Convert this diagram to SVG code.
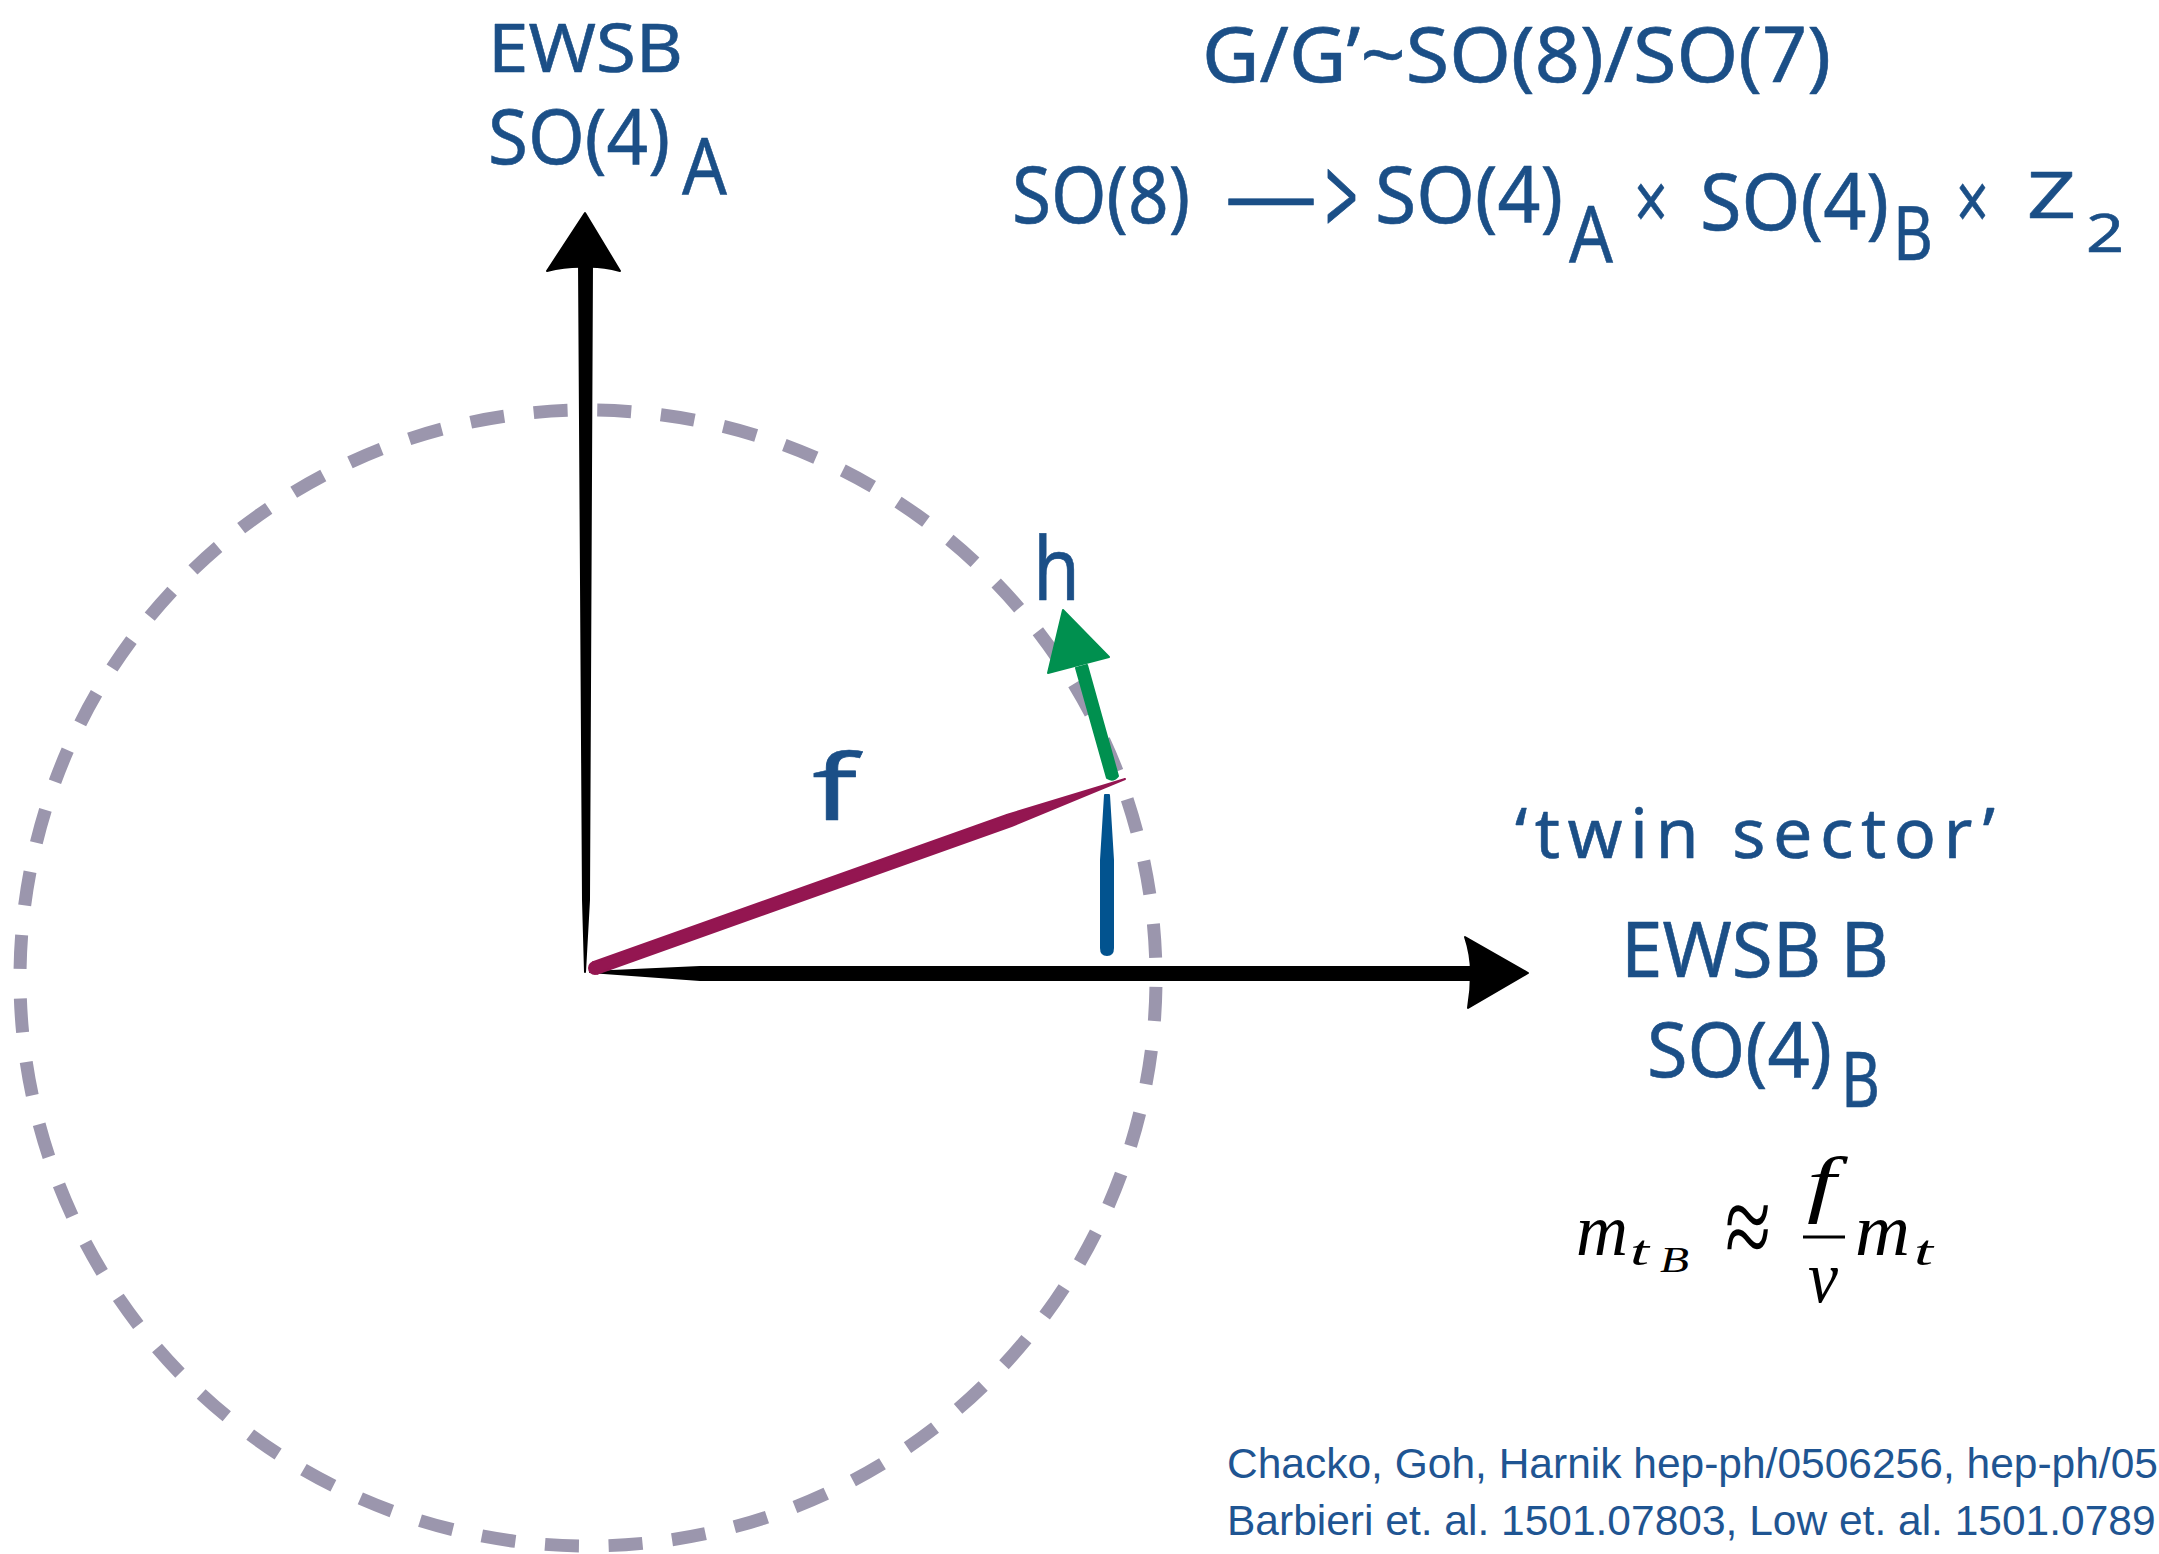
<svg xmlns="http://www.w3.org/2000/svg" width="2159" height="1554" viewBox="0 0 2159 1554">
<style>
.hw{font-family:"Noto Sans","DejaVu Sans",sans-serif;fill:#1b4f87;stroke:#1b4f87;stroke-width:0.6;stroke-linejoin:round}
.m{font-family:"Liberation Serif","DejaVu Serif",serif;font-style:italic;fill:#000}
.mr{font-family:"Liberation Serif","DejaVu Serif",serif;fill:#000}
.cite{font-family:"Liberation Sans",Arial,sans-serif;font-size:42.5px;fill:#1f5592}
.ink{stroke-linejoin:round;stroke-width:2}
</style>
<rect width="2159" height="1554" fill="#fff"/>

<g id="circle">
<circle cx="588" cy="978" r="568" fill="none" stroke="#9b96ad" stroke-width="13" stroke-dasharray="34 29.73" stroke-dashoffset="-9"/>
</g>

<g id="connectors">
<g id="axis-vertical" fill="#000" stroke="#000" class="ink">
<path d="M585,972 L583,900 L579,262 L592,262 L589,900 Z"/>
<path d="M585,213 L620,271 Q600,266 586,267 Q568,266 547,271 Z"/>
</g>
<g id="axis-horizontal" fill="#000" stroke="#000" class="ink">
<path d="M590,972 L700,967 L1478,967 L1478,980 L700,980 Z"/>
<path d="M1528,973 L1465,937 Q1471,955 1471,973 Q1471,990 1468,1008 Z"/>
</g>
<g id="vector-f" fill="#941651" stroke="#941651" class="ink">
<circle cx="595" cy="968" r="6"/>
<path d="M597,973.7 L1011.5,826 L1125,779 L1007.5,814.7 L593,962.3 Z"/>
</g>
<g id="vector-h" fill="#00904f" stroke="#00904f" class="ink">
<path d="M1118,776 Q1113,782 1107,778 L1076,668 L1087,665 Z"/>
<path d="M1063,610 L1109,657 L1048,673 Z"/>
</g>
<g id="vector-v" fill="#02538f" stroke="#02538f" class="ink">
<path d="M1105,795 L1109,795 L1113,860 L1113,948 Q1113,955 1107,955 Q1101,955 1101,948 L1101,860 Z"/>
</g>
</g>

<g id="label-A">
<text class="hw" x="488" y="72" font-size="68" textLength="195" lengthAdjust="spacingAndGlyphs">EWSB</text>
<text class="hw" x="488" y="164" font-size="76" textLength="182" lengthAdjust="spacingAndGlyphs">SO(4)</text>
<text class="hw" x="682" y="194" font-size="78" textLength="45" lengthAdjust="spacingAndGlyphs">A</text>
</g>

<g id="label-coset">
<text class="hw" x="1202" y="82" font-size="76" textLength="629" lengthAdjust="spacingAndGlyphs">G/G’~SO(8)/SO(7)</text>
</g>

<g id="label-breaking">
<text class="hw" x="1012" y="223" font-size="78" textLength="178" lengthAdjust="spacingAndGlyphs">SO(8)</text>
<text class="hw" x="1225" y="223" font-size="78" textLength="92" lengthAdjust="spacingAndGlyphs">—</text>
<text class="hw" transform="translate(1325,236) scale(1,1.4)" x="0" y="0" font-size="78" textLength="33" lengthAdjust="spacingAndGlyphs">&gt;</text>
<text class="hw" x="1375" y="223" font-size="78" textLength="188" lengthAdjust="spacingAndGlyphs">SO(4)</text>
<text class="hw" x="1569" y="262" font-size="78" textLength="44" lengthAdjust="spacingAndGlyphs">A</text>
<text class="hw" x="1634" y="230" font-size="80" textLength="34" lengthAdjust="spacingAndGlyphs">×</text>
<text class="hw" x="1700" y="230" font-size="78" textLength="189" lengthAdjust="spacingAndGlyphs">SO(4)</text>
<text class="hw" x="1893" y="260" font-size="74" textLength="40" lengthAdjust="spacingAndGlyphs">B</text>
<text class="hw" x="1956" y="230" font-size="80" textLength="33" lengthAdjust="spacingAndGlyphs">×</text>
<text class="hw" x="2027" y="218" font-size="63" textLength="49" lengthAdjust="spacingAndGlyphs">Z</text>
<text class="hw" x="2086" y="252" font-size="52" textLength="38" lengthAdjust="spacingAndGlyphs">2</text>
</g>

<g id="label-B">
<text class="hw" x="1515" y="858" font-size="70" textLength="480" lengthAdjust="spacing">‘twin sector’</text>
<text class="hw" x="1621" y="977" font-size="76" textLength="268" lengthAdjust="spacingAndGlyphs">EWSB B</text>
<text class="hw" x="1647" y="1077" font-size="76" textLength="185" lengthAdjust="spacingAndGlyphs">SO(4)</text>
<text class="hw" x="1841" y="1107" font-size="76" textLength="39" lengthAdjust="spacingAndGlyphs">B</text>
</g>

<g id="label-h">
<text class="hw" x="1033" y="600" font-size="88" textLength="47" lengthAdjust="spacingAndGlyphs">h</text>
</g>
<g id="label-f">
<text class="hw" x="812" y="820" font-size="92" textLength="45" lengthAdjust="spacingAndGlyphs">f</text>
</g>

<g id="formula">
<text class="m" x="1576" y="1255" font-size="73" textLength="52" lengthAdjust="spacingAndGlyphs">m</text>
<text class="m" x="1630" y="1265" font-size="43" textLength="19" lengthAdjust="spacingAndGlyphs">t</text>
<text class="m" x="1660" y="1272" font-size="36" textLength="29" lengthAdjust="spacingAndGlyphs">B</text>
<text class="mr" x="1725" y="1267" font-size="120" textLength="46" lengthAdjust="spacingAndGlyphs">≈</text>
<text class="m" x="1807" y="1208" font-size="73" textLength="29" lengthAdjust="spacingAndGlyphs">f</text>
<line x1="1803" y1="1237" x2="1845" y2="1237" stroke="#000" stroke-width="3"/>
<text class="m" x="1808" y="1302" font-size="73" textLength="30" lengthAdjust="spacingAndGlyphs">v</text>
<text class="m" x="1855" y="1255" font-size="73" textLength="55" lengthAdjust="spacingAndGlyphs">m</text>
<text class="m" x="1914" y="1265" font-size="43" textLength="19" lengthAdjust="spacingAndGlyphs">t</text>
</g>

<g id="citation">
<text class="cite" x="1227" y="1478">Chacko, Goh, Harnik hep-ph/0506256, hep-ph/05</text>
<text class="cite" x="1227" y="1535">Barbieri et. al. 1501.07803, Low et. al. 1501.0789</text>
</g>
</svg>
